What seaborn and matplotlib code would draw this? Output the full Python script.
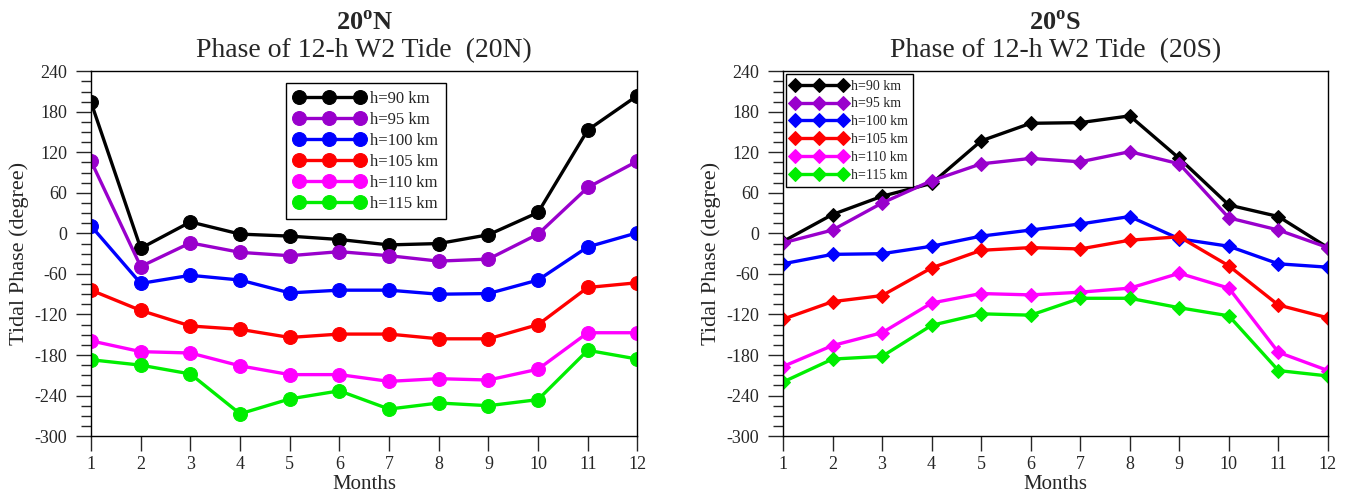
import numpy as np
import pandas as pd
import matplotlib
matplotlib.use("Agg")
import matplotlib.pyplot as plt
import seaborn as sns
from matplotlib.ticker import MultipleLocator

months = list(range(1, 13))
heights = ["h=90 km", "h=95 km", "h=100 km", "h=105 km", "h=110 km", "h=115 km"]
cores = ["black", "#9900cc", "blue", "red", "magenta", "#00ee00"]

# 20N
n90 = [194, -22, 17, -1, -4, -9, -17, -15, -2, 31, 153, 204]
n95 = [107, -49, -14, -28, -33, -27, -33, -41, -38, -1, 68, 107]
n100 = [11, -74, -62, -69, -88, -84, -84, -90, -89, -69, -20, 1]
n105 = [-84, -114, -137, -142, -154, -149, -149, -156, -156, -135, -80, -73]
n110 = [-159, -175, -177, -196, -209, -209, -219, -215, -217, -201, -147, -147]
n115 = [-187, -195, -208, -267, -245, -233, -260, -251, -255, -246, -173, -186]

# 20S
s90 = [-12, 28, 55, 74, 137, 163, 164, 174, 111, 42, 25, -21]
s95 = [-14, 5, 45, 78, 103, 111, 106, 121, 103, 23, 5, -21]
s100 = [-45, -31, -30, -19, -4, 5, 14, 25, -8, -19, -45, -50]
s105 = [-127, -101, -92, -51, -25, -21, -23, -10, -5, -48, -106, -125]
s110 = [-197, -166, -147, -103, -89, -91, -87, -81, -59, -81, -176, -203]
s115 = [-220, -186, -182, -136, -119, -121, -96, -96, -110, -122, -203, -211]

sns.set_style("white")
plt.rcParams['font.family'] = ['Liberation Serif', 'DejaVu Serif']
plt.rcParams['axes.unicode_minus'] = False

fig = plt.figure(figsize=(13.49, 4.95), dpi=100)
ax1 = fig.add_axes([0.0675, 0.119, 0.405, 0.737])
ax2 = fig.add_axes([0.5804, 0.119, 0.404, 0.737])


def painel(ax, series, marcador, ms, titulo1, titulo2, leg_kw):
    for nome, vals, cor in zip(heights, series, cores):
        sns.lineplot(x=months, y=vals, ax=ax, color=cor, marker=marcador,
                     markersize=ms, markeredgecolor=cor, linewidth=2.4,
                     label=nome)
    ax.set_xlim(1, 12)
    ax.set_ylim(-300, 240)
    ax.set_xticks(months)
    ax.yaxis.set_major_locator(MultipleLocator(60))
    ax.yaxis.set_minor_locator(MultipleLocator(15))
    ax.tick_params(axis='x', direction='out', length=11, width=1, labelsize=13, bottom=True, pad=3)
    ax.tick_params(axis='y', which='major', direction='out', length=11, width=1, labelsize=13, left=True, pad=6)
    ax.tick_params(axis='y', which='minor', direction='out', length=7, width=1, left=True)
    for sp in ax.spines.values():
        sp.set_color("black")
        sp.set_linewidth(1)
    ax.set_xlabel("Months", fontsize=15, labelpad=2)
    ax.set_ylabel("Tidal Phase (degree)", fontsize=16, labelpad=4)
    ax.set_title(titulo2, fontsize=20, pad=10)
    ax.text(0.5, 1.112, titulo1, transform=ax.transAxes, ha='center',
            va='baseline', fontsize=19, fontweight='bold')
    leg = ax.legend(numpoints=3, fancybox=False, framealpha=1,
                    edgecolor="black", **leg_kw)
    leg.get_frame().set_linewidth(1)


painel(ax1, [n90, n95, n100, n105, n110, n115], 'o', 10,
       "20$^\\mathregular{o}$N", "Phase of 12-h W2 Tide  (20N)",
       dict(loc='upper left', bbox_to_anchor=(0.357, 0.967), fontsize=12,
            handlelength=4.3, labelspacing=0.3, handletextpad=0.3,
            borderpad=0.45, borderaxespad=0))
painel(ax2, [s90, s95, s100, s105, s110, s115], 'D', 7,
       "20$^\\mathregular{o}$S", "Phase of 12-h W2 Tide  (20S)",
       dict(loc='upper left', bbox_to_anchor=(0.0, 1.0), fontsize=10,
            handlelength=4, labelspacing=0.35, handletextpad=0.3,
            borderpad=0.4, borderaxespad=0.2))

fig.savefig("out.png", dpi=100)
